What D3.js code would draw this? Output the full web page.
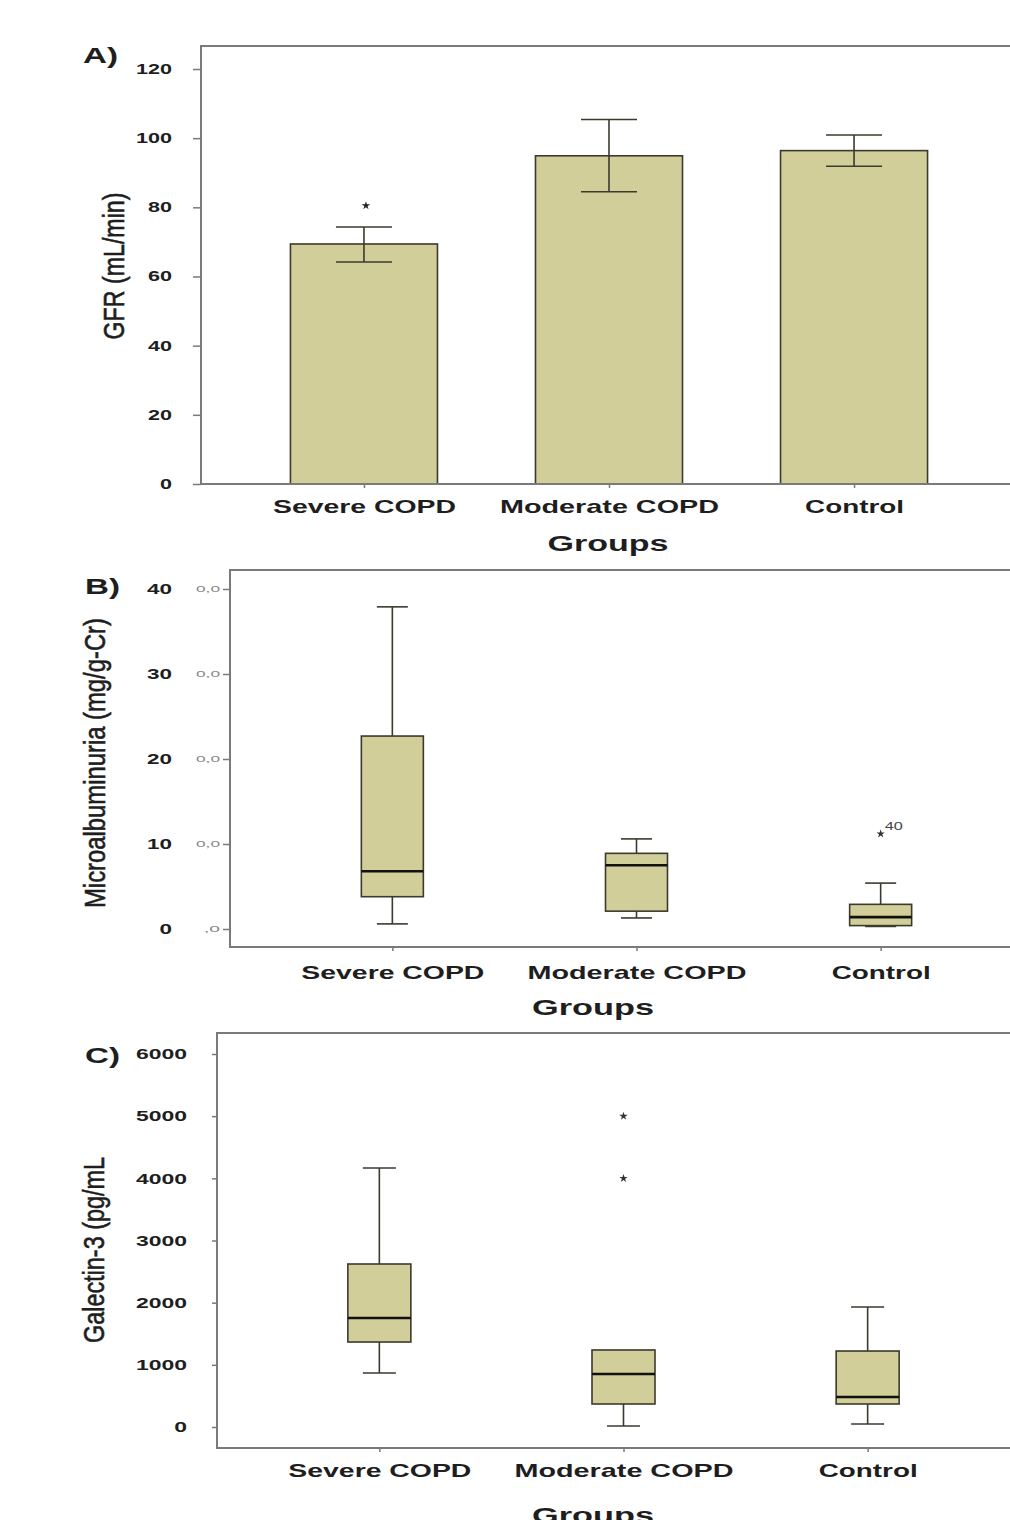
<!DOCTYPE html>
<html><head><meta charset="utf-8">
<script src="https://cdn.jsdelivr.net/npm/d3@7"></script>
<style>
body{margin:0;background:#fff}
svg{display:block}
text{font-family:"Liberation Sans",Arial,sans-serif}
</style>
</head><body>
<svg id="c" width="1010" height="1520"></svg>
<script>
// ---------------- DATA ----------------
const groups = ["Severe COPD", "Moderate COPD", "Control"];

// Panel A: GFR (mL/min) mean with error bars
const gfrMean  = [69.4, 94.9, 96.4];
const gfrUpper = [74.3, 105.4, 100.9];
const gfrLower = [64.2, 84.5, 91.9];
const gfrMarkGroup = ["Severe COPD"];
const gfrMarkValue = [80.5];
const gfrTicks = [0, 20, 40, 60, 80, 100, 120];

// Panel B: Microalbuminuria (mg/g-Cr) box plots
const maWhiskerLow  = [0.6, 1.3, 0.3];
const maQ1          = [3.8, 2.1, 0.4];
const maMedian      = [6.8, 7.5, 1.4];
const maQ3          = [22.7, 8.9, 2.9];
const maWhiskerHigh = [37.9, 10.6, 5.4];
const maOutlierGroup = ["Control"];
const maOutlierValue = [11.2];
const maOutlierLabel = ["40"];
const maTicks = [0, 10, 20, 30, 40];
const maInnerTickLabels = [",0", "0,0", "0,0", "0,0", "0,0"];

// Panel C: Galectin-3 (pg/mL) box plots
const galWhiskerLow  = [869, 16, 48];
const galQ1          = [1367, 370, 370];
const galMedian      = [1753, 853, 483];
const galQ3          = [2622, 1239, 1222];
const galWhiskerHigh = [4166, 1239, 1930];
const galOutlierGroup = ["Moderate COPD", "Moderate COPD"];
const galOutlierValue = [5000, 4000];
const galTicks = [0, 1000, 2000, 3000, 4000, 5000, 6000];

// ---------------- STYLE / LAYOUT ----------------
const FILL = "#d2ce99", EDGE = "#3a3a2e", FRAME = "#7a7a7a", TXT = "#1e1e1e";
const catWidths = [183, 219, 99];
const svg = d3.select("#c");

function fit(sel, w) { sel.attr("textLength", w).attr("lengthAdjust", "spacingAndGlyphs"); }

function drawFrame(p) {
  svg.append("rect").attr("x", p.left).attr("y", p.top)
    .attr("width", p.right - p.left).attr("height", p.bottom - p.top)
    .attr("fill", "none").attr("stroke", FRAME).attr("stroke-width", 2);
}

function yAxis(p, y, ticks, size, pad, fs, cw, fmt) {
  const g = svg.append("g").attr("transform", `translate(${p.left},0)`)
    .call(d3.axisLeft(y).tickValues(ticks).tickSize(size).tickPadding(pad).tickFormat(fmt || d3.format("d")));
  g.attr("font-family", null).attr("font-size", null);
  g.select(".domain").remove();
  g.selectAll(".tick line").attr("stroke", FRAME).attr("stroke-width", 1.5);
  g.selectAll(".tick text").attr("font-size", fs).attr("font-weight", "bold").attr("fill", TXT)
    .each(function () { const t = d3.select(this); fit(t, t.text().length * cw); });
  return g;
}

function xAxis(p, x, baseOff) {
  const g = svg.append("g").attr("transform", `translate(0,${p.bottom})`)
    .call(d3.axisBottom(x).tickSize(4).tickPadding(0));
  g.attr("font-family", null).attr("font-size", null);
  g.select(".domain").remove();
  g.selectAll(".tick line").attr("stroke", FRAME).attr("stroke-width", 1.5);
  g.selectAll(".tick text").attr("font-size", 19).attr("font-weight", "bold").attr("fill", TXT)
    .attr("y", baseOff).attr("dy", 0)
    .each(function (d, i) { fit(d3.select(this), catWidths[i]); });
}

function title(xc, yb, txt, w) {
  const t = svg.append("text").attr("x", xc).attr("y", yb).attr("text-anchor", "middle")
    .attr("font-size", 22).attr("font-weight", "bold").attr("fill", TXT).text(txt);
  fit(t, w);
}
function yTitle(xb, yc, txt, w) {
  const t = svg.append("text").attr("transform", `translate(${xb},${yc}) rotate(-90)`)
    .attr("text-anchor", "middle").attr("font-size", 30).attr("fill", TXT)
    .attr("stroke", TXT).attr("stroke-width", 0.6).text(txt);
  fit(t, w);
}
function panelLetter(x, yb, txt) {
  const t = svg.append("text").attr("x", x).attr("y", yb).attr("font-size", 22)
    .attr("font-weight", "bold").attr("fill", TXT).text(txt);
  fit(t, 35);
}

function boxes(x, y, lo, q1, med, q3, hi, boxW, capW) {
  const g = svg.append("g");
  groups.forEach((grp, i) => {
    const cx = x(grp);
    g.append("line").attr("x1", cx).attr("x2", cx).attr("y1", y(hi[i])).attr("y2", y(q3[i]))
      .attr("stroke", EDGE).attr("stroke-width", 1.6);
    g.append("line").attr("x1", cx).attr("x2", cx).attr("y1", y(q1[i])).attr("y2", y(lo[i]))
      .attr("stroke", EDGE).attr("stroke-width", 1.6);
    if (hi[i] > q3[i])
      g.append("line").attr("x1", cx - capW / 2).attr("x2", cx + capW / 2).attr("y1", y(hi[i])).attr("y2", y(hi[i]))
        .attr("stroke", EDGE).attr("stroke-width", 1.6);
    g.append("line").attr("x1", cx - capW / 2).attr("x2", cx + capW / 2).attr("y1", y(lo[i])).attr("y2", y(lo[i]))
      .attr("stroke", EDGE).attr("stroke-width", 1.6);
    g.append("rect").attr("x", cx - boxW / 2).attr("y", y(q3[i])).attr("width", boxW)
      .attr("height", y(q1[i]) - y(q3[i])).attr("fill", FILL).attr("stroke", EDGE).attr("stroke-width", 1.6);
    g.append("line").attr("x1", cx - boxW / 2).attr("x2", cx + boxW / 2).attr("y1", y(med[i])).attr("y2", y(med[i]))
      .attr("stroke", "#111").attr("stroke-width", 2.6);
  });
}

const star = d3.symbol().type(d3.symbolStar).size(22);

// ---------------- PANEL A ----------------
const A = { left: 201, right: 1017, top: 46, bottom: 484 };
const xA = d3.scalePoint().domain(groups).range([A.left, A.right]).padding(0.665);
const yA = d3.scaleLinear().domain([0, 120]).range([484, 69]);
drawFrame(A);
yAxis(A, yA, gfrTicks, 8, 21, 14, 12);
const barW = xA.step() * 0.6;
svg.append("g").selectAll("rect").data(groups).join("rect")
  .attr("x", d => xA(d) - barW / 2).attr("y", (d, i) => yA(gfrMean[i]))
  .attr("width", barW).attr("height", (d, i) => yA(0) - yA(gfrMean[i]))
  .attr("fill", FILL).attr("stroke", EDGE).attr("stroke-width", 1.6);
const capA = 56;
const eb = svg.append("g").attr("stroke", EDGE).attr("stroke-width", 1.6);
groups.forEach((grp, i) => {
  const cx = xA(grp);
  eb.append("line").attr("x1", cx).attr("x2", cx).attr("y1", yA(gfrUpper[i])).attr("y2", yA(gfrLower[i]));
  eb.append("line").attr("x1", cx - capA / 2).attr("x2", cx + capA / 2).attr("y1", yA(gfrUpper[i])).attr("y2", yA(gfrUpper[i]));
  eb.append("line").attr("x1", cx - capA / 2).attr("x2", cx + capA / 2).attr("y1", yA(gfrLower[i])).attr("y2", yA(gfrLower[i]));
});
gfrMarkGroup.forEach((grp, i) => {
  svg.append("path").attr("d", star).attr("fill", "#222")
    .attr("transform", `translate(${xA(grp) + 2},${yA(gfrMarkValue[i])})`);
});
svg.append("line").attr("x1", A.left).attr("x2", A.right).attr("y1", A.bottom).attr("y2", A.bottom)
  .attr("stroke", FRAME).attr("stroke-width", 2);
xAxis(A, xA, 29);
title(608, 551, "Groups", 121);
yTitle(124, 266, "GFR (mL/min)", 147);
panelLetter(83, 63, "A)");

// ---------------- PANEL B ----------------
const B = { left: 230, right: 1043, top: 570, bottom: 947 };
const xB = d3.scalePoint().domain(groups).range([B.left, B.right]).padding(0.665);
const yB = d3.scaleLinear().domain([0, 40]).range([929, 589]);
drawFrame(B);
const gi = svg.append("g").attr("transform", `translate(${B.left},0)`)
  .call(d3.axisLeft(yB).tickValues(maTicks).tickSize(7).tickPadding(3)
    .tickFormat((d, i) => maInnerTickLabels[i]));
gi.attr("font-family", null).attr("font-size", null);
gi.select(".domain").remove();
gi.selectAll(".tick line").attr("stroke", FRAME).attr("stroke-width", 1.5);
gi.selectAll(".tick text").attr("font-size", 9).attr("fill", "#888")
  .each(function () { const t = d3.select(this); fit(t, t.text().length * 8); });
const go = svg.append("g").attr("transform", `translate(${B.left},0)`)
  .call(d3.axisLeft(yB).tickValues(maTicks).tickSize(0).tickPadding(58).tickFormat(d3.format("d")));
go.attr("font-family", null).attr("font-size", null);
go.select(".domain").remove();
go.selectAll(".tick text").attr("font-size", 14).attr("font-weight", "bold").attr("fill", TXT)
  .each(function () { const t = d3.select(this); fit(t, t.text().length * 12.5); });
boxes(xB, yB, maWhiskerLow, maQ1, maMedian, maQ3, maWhiskerHigh, 62, 31);
maOutlierGroup.forEach((grp, i) => {
  svg.append("path").attr("d", star).attr("fill", "#333")
    .attr("transform", `translate(${xB(grp)},${yB(maOutlierValue[i])})`);
  const t = svg.append("text").attr("x", xB(grp) + 4).attr("y", yB(maOutlierValue[i]) - 4)
    .attr("font-size", 10).attr("fill", "#444").text(maOutlierLabel[i]);
  fit(t, 18);
});
xAxis(B, xB, 32);
title(593, 1015, "Groups", 122);
yTitle(105, 763, "Microalbuminuria (mg/g-Cr)", 290);
panelLetter(85, 594, "B)");

// ---------------- PANEL C ----------------
const C = { left: 217, right: 1030, top: 1033, bottom: 1448 };
const xC = d3.scalePoint().domain(groups).range([C.left, C.right]).padding(0.665);
const yC = d3.scaleLinear().domain([0, 6000]).range([1427, 1054]);
drawFrame(C);
yAxis(C, yC, galTicks, 5, 25, 15, 12.75);
boxes(xC, yC, galWhiskerLow, galQ1, galMedian, galQ3, galWhiskerHigh, 63, 33);
galOutlierGroup.forEach((grp, i) => {
  svg.append("path").attr("d", star).attr("fill", "#333")
    .attr("transform", `translate(${xC(grp)},${yC(galOutlierValue[i])})`);
});
xAxis(C, xC, 29);
title(593, 1523, "Groups", 122);
yTitle(104, 1250, "Galectin-3 (pg/mL", 186);
panelLetter(85, 1063, "C)");
</script>
</body></html>
